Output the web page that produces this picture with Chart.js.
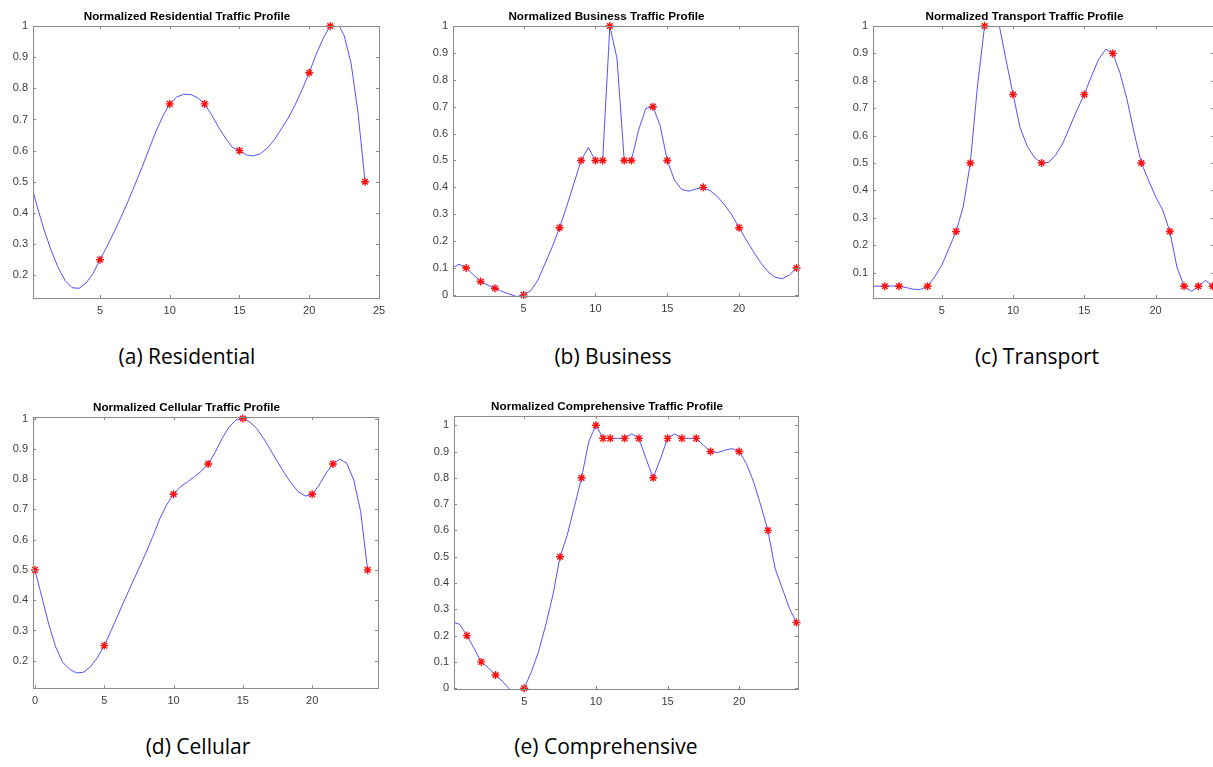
<!DOCTYPE html>
<html>
<head>
<meta charset="utf-8">
<script src="https://cdn.jsdelivr.net/npm/chart.js@4.4.0/dist/chart.umd.min.js"></script>
<style>
    body { margin: 0; width: 1213px; height: 767px; overflow: hidden; background: #fff; position: relative; }
    canvas { position: absolute; }
    .caption { position: absolute; font-family: "Open Sans", "Noto Sans", sans-serif; font-size: 21px; color: #000; white-space: nowrap; transform: translate(-50%, -50%); }
</style>
</head>
<body>

<script>
// ---- data (hour of day vs normalized traffic) ----

// (a) residential
const residentialHours = [5, 10, 12.5, 15, 20, 21.5, 24];
const residentialValues = [0.25, 0.75, 0.75, 0.6, 0.85, 1.0, 0.5];
const residentialCurveX = [0.2, 0.5, 1, 1.5, 2, 2.5, 3, 3.5, 4, 4.5, 5, 5.5, 6, 6.5, 7, 7.5, 8, 8.5, 9, 9.5, 10, 10.5, 11, 11.5, 12, 12.5, 13, 13.5, 14, 14.5, 15, 15.5, 16, 16.5, 17, 17.5, 18, 18.5, 19, 19.5, 20, 20.5, 21, 21.5, 22, 22.5, 23, 23.5, 24];
const residentialCurveY = [0.47, 0.42, 0.345, 0.28, 0.225, 0.183, 0.16, 0.158, 0.175, 0.205, 0.25, 0.292, 0.338, 0.386, 0.436, 0.49, 0.545, 0.603, 0.66, 0.71, 0.75, 0.772, 0.781, 0.78, 0.77, 0.75, 0.715, 0.675, 0.64, 0.61, 0.6, 0.586, 0.583, 0.59, 0.608, 0.635, 0.67, 0.705, 0.748, 0.797, 0.85, 0.91, 0.96, 1.0, 1.012, 0.97, 0.88, 0.72, 0.5];
const residentialXTicks = [5, 10, 15, 20, 25];
const residentialYTicks = [0.2, 0.3, 0.4, 0.5, 0.6, 0.7, 0.8, 0.9, 1];

// (b) business
const businessHours = [1, 2, 3, 5, 7.5, 9, 10, 10.5, 11, 12, 12.5, 14, 15, 17.5, 20, 24];
const businessValues = [0.1, 0.05, 0.025, 0, 0.25, 0.5, 0.5, 0.5, 1.0, 0.5, 0.5, 0.7, 0.5, 0.4, 0.25, 0.1];
const businessCurveX = [0.08, 0.5, 1, 1.5, 2, 2.5, 3, 3.5, 4, 4.5, 5, 5.5, 6, 6.5, 7, 7.5, 8, 8.5, 9, 9.5, 10, 10.5, 11, 11.5, 12, 12.5, 13, 13.5, 14, 14.5, 15, 15.5, 16, 16.5, 17, 17.5, 18, 18.5, 19, 19.5, 20, 20.5, 21, 21.5, 22, 22.5, 23, 23.5, 24];
const businessCurveY = [0.101, 0.114, 0.1, 0.075, 0.05, 0.036, 0.025, 0.013, 0.003, -0.006, 0, 0.016, 0.056, 0.118, 0.18, 0.25, 0.33, 0.415, 0.5, 0.548, 0.5, 0.5, 1.0, 0.879, 0.5, 0.5, 0.613, 0.693, 0.7, 0.63, 0.5, 0.427, 0.392, 0.386, 0.394, 0.4, 0.387, 0.365, 0.334, 0.297, 0.25, 0.204, 0.161, 0.12, 0.087, 0.066, 0.06, 0.074, 0.1];
const businessXTicks = [5, 10, 15, 20];
const businessYTicks = [0, 0.1, 0.2, 0.3, 0.4, 0.5, 0.6, 0.7, 0.8, 0.9, 1];

// (c) transport
const transportHours = [1, 2, 4, 6, 7, 8, 10, 12, 15, 17, 19, 21, 22, 23, 24];
const transportValues = [0.05, 0.05, 0.05, 0.25, 0.5, 1.0, 0.75, 0.5, 0.75, 0.9, 0.5, 0.25, 0.05, 0.05, 0.05];
const transportCurveX = [0.15, 0.5, 1, 1.5, 2, 2.5, 3, 3.5, 4, 4.5, 5, 5.5, 6, 6.5, 7, 7.5, 8, 8.5, 9, 9.5, 10, 10.5, 11, 11.5, 12, 12.5, 13, 13.5, 14, 14.5, 15, 15.5, 16, 16.5, 17, 17.5, 18, 18.5, 19, 19.5, 20, 20.5, 21, 21.5, 22, 22.5, 23, 23.5, 24];
const transportCurveY = [0.05, 0.05, 0.05, 0.051, 0.05, 0.045, 0.039, 0.038, 0.05, 0.084, 0.127, 0.188, 0.25, 0.34, 0.5, 0.78, 1.0, 1.08, 1.01, 0.878, 0.75, 0.628, 0.56, 0.52, 0.5, 0.502, 0.53, 0.573, 0.634, 0.695, 0.75, 0.817, 0.878, 0.915, 0.9, 0.829, 0.731, 0.609, 0.5, 0.438, 0.377, 0.328, 0.25, 0.12, 0.05, 0.031, 0.05, 0.071, 0.05];
const transportXTicks = [5, 10, 15, 20];
const transportYTicks = [0.1, 0.2, 0.3, 0.4, 0.5, 0.6, 0.7, 0.8, 0.9, 1];

// (d) cellular
const cellularHours = [0, 5, 10, 12.5, 15, 20, 21.5, 24];
const cellularValues = [0.5, 0.25, 0.75, 0.85, 1.0, 0.75, 0.85, 0.5];
const cellularCurveX = [0, 0.5, 1, 1.5, 2, 2.5, 3, 3.5, 4, 4.5, 5, 5.5, 6, 6.5, 7, 7.5, 8, 8.5, 9, 9.5, 10, 10.5, 11, 11.5, 12, 12.5, 13, 13.5, 14, 14.5, 15, 15.5, 16, 16.5, 17, 17.5, 18, 18.5, 19, 19.5, 20, 20.5, 21, 21.5, 22, 22.5, 23, 23.5, 24];
const cellularCurveY = [0.5, 0.41, 0.32, 0.245, 0.195, 0.172, 0.16, 0.162, 0.18, 0.21, 0.25, 0.3, 0.352, 0.404, 0.455, 0.505, 0.556, 0.61, 0.668, 0.715, 0.75, 0.775, 0.79, 0.808, 0.826, 0.85, 0.888, 0.934, 0.972, 0.995, 1.0, 0.989, 0.967, 0.934, 0.896, 0.857, 0.819, 0.786, 0.758, 0.744, 0.75, 0.78, 0.819, 0.85, 0.866, 0.852, 0.797, 0.692, 0.5];
const cellularXTicks = [0, 5, 10, 15, 20];
const cellularYTicks = [0.2, 0.3, 0.4, 0.5, 0.6, 0.7, 0.8, 0.9, 1];

// (e) comprehensive
const comprehensiveHours = [1, 2, 3, 5, 7.5, 9, 10, 10.5, 11, 12, 13, 14, 15, 16, 17, 18, 20, 22, 24];
const comprehensiveValues = [0.2, 0.1, 0.05, 0, 0.5, 0.8, 1.0, 0.95, 0.95, 0.95, 0.95, 0.8, 0.95, 0.95, 0.95, 0.9, 0.9, 0.6, 0.25];
const comprehensiveCurveX = [0.1, 0.5, 1, 1.5, 2, 2.5, 3, 3.5, 4, 4.5, 5, 5.5, 6, 6.5, 7, 7.5, 8, 8.5, 9, 9.5, 10, 10.5, 11, 11.5, 12, 12.5, 13, 13.5, 14, 14.5, 15, 15.5, 16, 16.5, 17, 17.5, 18, 18.5, 19, 19.5, 20, 20.5, 21, 21.5, 22, 22.5, 23, 23.5, 24];
const comprehensiveCurveY = [0.25, 0.243, 0.2, 0.152, 0.1, 0.078, 0.05, 0.025, -0.005, -0.04, 0, 0.063, 0.139, 0.24, 0.354, 0.5, 0.582, 0.69, 0.8, 0.937, 1.0, 0.95, 0.95, 0.95, 0.95, 0.967, 0.95, 0.872, 0.8, 0.872, 0.95, 0.967, 0.95, 0.95, 0.95, 0.924, 0.9, 0.896, 0.905, 0.911, 0.9, 0.854, 0.785, 0.696, 0.6, 0.456, 0.38, 0.304, 0.25];
const comprehensiveXTicks = [5, 10, 15, 20];
const comprehensiveYTicks = [0, 0.1, 0.2, 0.3, 0.4, 0.5, 0.6, 0.7, 0.8, 0.9, 1];

// ---- layout: plot box in page pixels + axis limits ----
const PAD = { left: 40, top: 24, right: 8, bottom: 24 };

const panels = [
    { title: 'Normalized Residential Traffic Profile', caption: '(a) Residential', box: [33, 26, 346, 272], xlim: [0.2, 25], ylim: [0.127, 1],
      hours: residentialHours, values: residentialValues, curveX: residentialCurveX, curveY: residentialCurveY, xTicks: residentialXTicks, yTicks: residentialYTicks, capPos: [187, 356] },
    { title: 'Normalized Business Traffic Profile', caption: '(b) Business', box: [453, 25.5, 345, 270], xlim: [0.08, 24.1], ylim: [-0.004, 1],
      hours: businessHours, values: businessValues, curveX: businessCurveX, curveY: businessCurveY, xTicks: businessXTicks, yTicks: businessYTicks, capPos: [613, 356] },
    { title: 'Normalized Transport Traffic Profile', caption: '(c) Transport', box: [873, 26, 341, 272], xlim: [0.17, 24.1], ylim: [0.007, 1],
      hours: transportHours, values: transportValues, curveX: transportCurveX, curveY: transportCurveY, xTicks: transportXTicks, yTicks: transportYTicks, capPos: [1037, 356] },
    { title: 'Normalized Cellular Traffic Profile', caption: '(d) Cellular', box: [33, 417, 345, 271], xlim: [-0.14, 24.75], ylim: [0.11, 1.005],
      hours: cellularHours, values: cellularValues, curveX: cellularCurveX, curveY: cellularCurveY, xTicks: cellularXTicks, yTicks: cellularYTicks, capPos: [198, 746] },
    { title: 'Normalized Comprehensive Traffic Profile', caption: '(e) Comprehensive', box: [454, 416, 344, 273], xlim: [0.1, 24.1], ylim: [-0.003, 1.035],
      hours: comprehensiveHours, values: comprehensiveValues, curveX: comprehensiveCurveX, curveY: comprehensiveCurveY, xTicks: comprehensiveXTicks, yTicks: comprehensiveYTicks, capPos: [606, 746] },
];

const AXIS_GREY = '#8a8a8a';
const TICK_FONT = { family: '"Liberation Sans", Arial, sans-serif', size: 11 };

// frame, inward ticks on all four sides and the bold title (MATLAB look)
const matlabAxes = {
    id: 'matlabAxes',
    afterDraw(chart, args, opts) {
        const { ctx, chartArea: a, scales } = chart;
        ctx.save();
        ctx.strokeStyle = AXIS_GREY;
        ctx.lineWidth = 1;
        ctx.strokeRect(Math.round(a.left) + 0.5, Math.round(a.top) + 0.5, Math.round(a.right - a.left), Math.round(a.bottom - a.top));
        const len = 3;
        ctx.beginPath();
        scales.x.ticks.forEach(t => {
            const x = Math.round(scales.x.getPixelForValue(t.value)) + 0.5;
            ctx.moveTo(x, a.bottom); ctx.lineTo(x, a.bottom - len);
            ctx.moveTo(x, a.top); ctx.lineTo(x, a.top + len);
        });
        scales.y.ticks.forEach(t => {
            const y = Math.round(scales.y.getPixelForValue(t.value)) + 0.5;
            ctx.moveTo(a.left, y); ctx.lineTo(a.left + len, y);
            ctx.moveTo(a.right, y); ctx.lineTo(a.right - len, y);
        });
        ctx.stroke();

        ctx.fillStyle = '#000';
        ctx.font = 'bold 11.7px "Liberation Sans", Arial, sans-serif';
        ctx.textAlign = 'center';
        ctx.textBaseline = 'middle';
        ctx.fillText(opts.text, (a.left + a.right) / 2 - 19, a.top - 9);
        ctx.restore();
    }
};

function tickLabel(v) {
    return String(Math.round(v * 10) / 10);
}

panels.forEach(p => {
    const [left, top, w, h] = p.box;
    const canvas = document.createElement('canvas');
    const cw = w + PAD.left + PAD.right;
    const ch = h + PAD.top + PAD.bottom;
    canvas.width = cw;
    canvas.height = ch;
    canvas.style.left = (left - PAD.left) + 'px';
    canvas.style.top = (top - PAD.top) + 'px';
    canvas.style.width = cw + 'px';
    canvas.style.height = ch + 'px';
    document.body.appendChild(canvas);

    const cap = document.createElement('div');
    cap.className = 'caption';
    cap.textContent = p.caption;
    cap.style.left = p.capPos[0] + 'px';
    cap.style.top = p.capPos[1] + 'px';
    document.body.appendChild(cap);

    new Chart(canvas.getContext('2d'), {
        type: 'scatter',
        data: {
            datasets: [
                {
                    label: 'samples',
                    data: p.hours.map((x, i) => ({ x, y: p.values[i] })),
                    pointStyle: 'star',
                    pointRadius: 4,
                    borderColor: '#ff1010',
                    backgroundColor: '#ff1010',
                    borderWidth: 1.4,
                    showLine: false,
                    clip: false
                },
                {
                    label: 'profile',
                    data: p.curveX.map((x, i) => ({ x, y: p.curveY[i] })),
                    showLine: true,
                    borderColor: 'rgba(40, 40, 255, 0.8)',
                    borderWidth: 1,
                    pointRadius: 0,
                    tension: 0,
                    clip: 0
                }
            ]
        },
        options: {
            responsive: false,
            animation: false,
            events: [],
            layout: { padding: { top: PAD.top, right: PAD.right, left: 0, bottom: 0 } },
            plugins: {
                legend: { display: false },
                tooltip: { enabled: false },
                matlabAxes: { text: p.title }
            },
            scales: {
                x: {
                    type: 'linear',
                    min: p.xlim[0],
                    max: p.xlim[1],
                    grid: { display: false, drawTicks: false },
                    border: { display: false },
                    ticks: { color: '#3c3c3c', font: TICK_FONT, padding: 6, autoSkip: false, maxRotation: 0, callback: tickLabel },
                    afterBuildTicks: s => { s.ticks = p.xTicks.map(v => ({ value: v })); },
                    afterFit: s => { s.height = PAD.bottom; s.paddingLeft = 0; s.paddingRight = 0; }
                },
                y: {
                    type: 'linear',
                    min: p.ylim[0],
                    max: p.ylim[1],
                    grid: { display: false, drawTicks: false },
                    border: { display: false },
                    ticks: { color: '#3c3c3c', font: TICK_FONT, padding: 5, autoSkip: false, callback: tickLabel },
                    afterBuildTicks: s => { s.ticks = p.yTicks.map(v => ({ value: v })); },
                    afterFit: s => { s.width = PAD.left; s.paddingTop = 0; s.paddingBottom = 0; }
                }
            }
        },
        plugins: [matlabAxes]
    });
});
</script>
</body>
</html>
